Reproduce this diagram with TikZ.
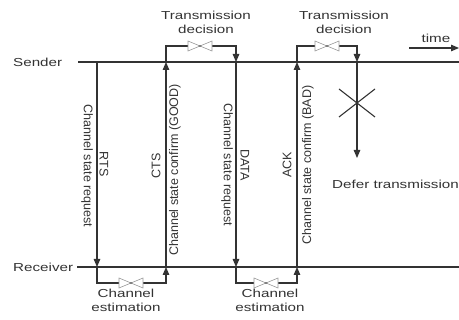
\documentclass[tikz,border=0pt]{standalone}
\usepackage{fontspec}
\setmainfont{Liberation Sans}
\newfontfamily\widefont[FakeStretch=1.31]{Liberation Sans}
\usetikzlibrary{arrows.meta}
\definecolor{ink}{HTML}{333333}
\begin{document}
\begin{tikzpicture}[x=1pt,y=-1pt,
  ln/.style={line width=1.1pt, draw=ink},
  arr/.style={ln,-{Triangle[length=8pt,width=6.5pt]}},
  htxt/.style={font=\widefont\fontsize{11.6}{14}\selectfont, inner sep=0pt, text=ink, align=center},
  vtxt/.style={font=\fontsize{12.5}{14}\selectfont, inner sep=0pt, text=ink},
  bowtie/.pic={\draw[fill=white, draw=black!40, line width=0.6pt] (-12,-5) -- (12,5) -- (12,-5) -- (-12,5) -- cycle;}]
\useasboundingbox (0,0) rectangle (459,320);
% time lines
\coordinate (s0) at (78,62);   \coordinate (s1) at (459,62);
\coordinate (r0) at (77,267);  \coordinate (r1) at (459,267);
\draw[ln] (s0) -- (s1);
\draw[ln] (r0) -- (r1);
\node[htxt, anchor=west] (sender) at (13,62) {Sender};
\node[htxt, anchor=west] (receiver) at (13,267) {Receiver};
% key points
\coordinate (a1) at (97,62);  \coordinate (a2) at (97,267);  \coordinate (a3) at (97,283);
\coordinate (b1) at (166,46); \coordinate (b2) at (166,62);  \coordinate (b3) at (166,267); \coordinate (b4) at (166,283);
\coordinate (c1) at (236,46); \coordinate (c2) at (236,62);  \coordinate (c3) at (236,267); \coordinate (c4) at (236,283);
\coordinate (d1) at (297,46); \coordinate (d2) at (297,62);  \coordinate (d3) at (297,267); \coordinate (d4) at (297,283);
\coordinate (e1) at (357,46); \coordinate (e2) at (357,62);  \coordinate (e3) at (357,158);
% messages
\draw[arr] (a1) -- (a2);
\draw[arr] (a2) -- (a3) -- (b4) -- (b3);
\draw[arr] (b3) -- (b2);
\draw[arr] (b2) -- (b1) -- (c1) -- (c2);
\draw[arr] (c2) -- (c3);
\draw[arr] (c3) -- (c4) -- (d4) -- (d3);
\draw[arr] (d3) -- (d2);
\draw[arr] (d2) -- (d1) -- (e1) -- (e2);
\draw[arr] (e2) -- (e3);
% valves
\pic at (131,283) {bowtie};
\pic at (200,46) {bowtie};
\pic at (266,283) {bowtie};
\pic at (327,46) {bowtie};
% cross
\coordinate (x1) at (339,89); \coordinate (x2) at (375,117);
\coordinate (x3) at (375,89); \coordinate (x4) at (339,117);
\draw[ln] (x1) -- (x2);
\draw[ln] (x3) -- (x4);
% time arrow
\coordinate (t0) at (409,48); \coordinate (t1) at (459,48);
\draw[arr] (t0) -- (t1);
\node[htxt] (time) at (436,38) {time};
% labels
\node[htxt] (td1) at (206,22) {Transmission\\decision};
\node[htxt] (td2) at (344,22) {Transmission\\decision};
\node[htxt] (ce1) at (126,300) {Channel\\estimation};
\node[htxt] (ce2) at (270,300) {Channel\\estimation};
\node[htxt, anchor=west] (defer) at (332,184) {Defer transmission};
% vertical labels
\node[vtxt, rotate=-90] (l1) at (87,166) {Channel state request};
\node[vtxt, rotate=-90] (l2) at (104,164) {RTS};
\node[vtxt, rotate=90] (l3) at (156,166) {CTS};
\node[vtxt, rotate=90] (l4) at (175,170) {Channel state confirm (GOOD)};
\node[vtxt, rotate=-90] (l5) at (227,165) {Channel state request};
\node[vtxt, rotate=-90] (l6) at (245,165) {DATA};
\node[vtxt, rotate=90] (l7) at (287,165) {ACK};
\node[vtxt, rotate=90] (l8) at (308,165) {Channel state confirm (BAD)};
\end{tikzpicture}
\end{document}
